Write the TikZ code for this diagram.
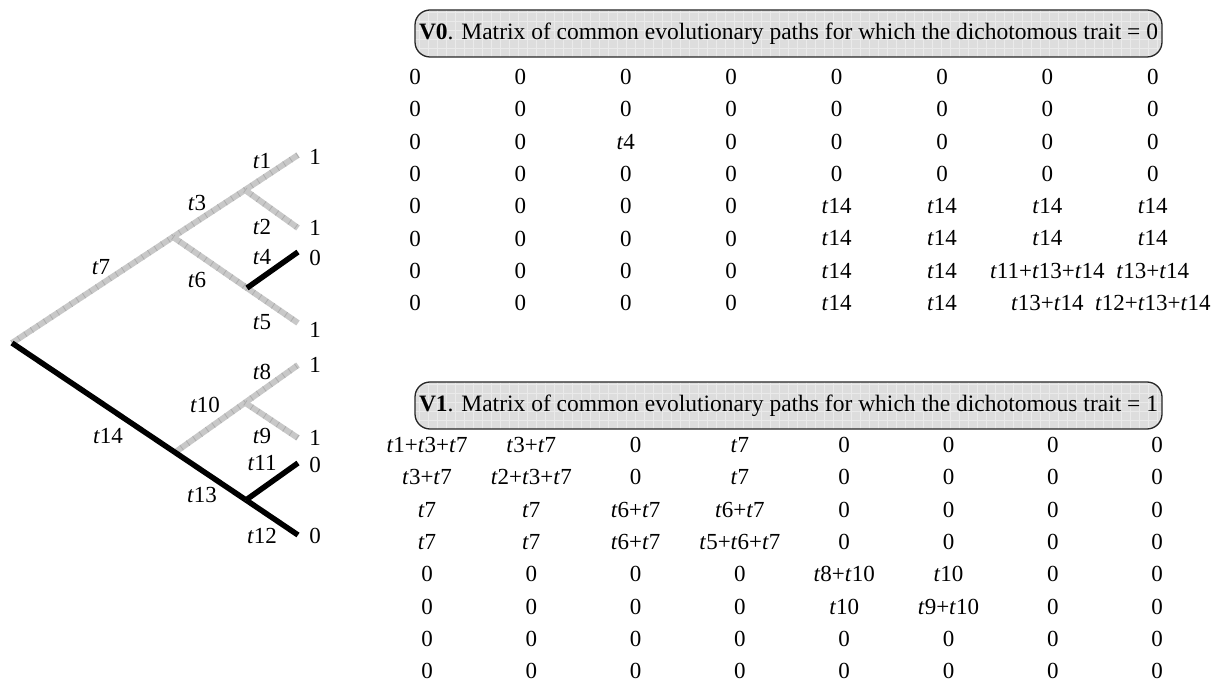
\documentclass[tikz,border=0pt]{standalone}
\usepackage{fontspec}
\setmainfont{Liberation Serif}
\newcommand{\tvar}[1]{\textit{t}#1}
\definecolor{brgray}{HTML}{C8C8C8}
\definecolor{brtick}{HTML}{ADADAD}
\definecolor{boxgray}{HTML}{DDDDDD}
\definecolor{gridcol}{HTML}{EAEAEA}
\begin{document}
\begin{tikzpicture}[x=1pt,y=-1pt,
  lab/.style={font=\fontsize{23}{27}\selectfont, inner sep=0pt},
  cell/.style={font=\fontsize{23}{27}\selectfont, inner sep=0pt},
  graybr/.style={line width=6pt, draw=brgray},
  ticks/.style={line width=6pt, draw=brtick, dash pattern=on 0.8pt off 7pt},
  blackbr/.style={line width=5.5pt, draw=black},
  titlebox/.style={draw=black!85, line width=1.3pt, fill=boxgray, rounded corners=15pt,
    minimum width=747pt, minimum height=47pt, inner sep=0pt,
    font=\fontsize{23.5}{27}\selectfont,
    path picture={\draw[gridcol, line width=0.5pt] (path picture bounding box.south west) grid[step=9pt] (path picture bounding box.north east);}}
]
\useasboundingbox (0,0) rectangle (1213,684);

% ---------- tree ----------
\coordinate (root) at (12,343);
\coordinate (A) at (173,237);
\coordinate (B) at (245,190);
\coordinate (L1) at (298,155);
\coordinate (L2) at (298,228);
\coordinate (C) at (247,288);
\coordinate (L4) at (298,252);
\coordinate (L5) at (298,323);
\coordinate (F) at (175,452.4);
\coordinate (D) at (245,402.7);
\coordinate (L8) at (298,365);
\coordinate (L9) at (298,438);
\coordinate (E) at (246,500);
\coordinate (L11) at (298,463);
\coordinate (L12) at (298,535);

\foreach \s/\e in {root/A, A/B, B/L1, B/L2, A/C, C/L5, F/D, D/L8, D/L9}{
  \draw[graybr] (\s) -- (\e);
  \draw[ticks] (\s) -- (\e);
}
\draw[blackbr] (root) -- (E);
\draw[blackbr] (E) -- (L12);
\draw[blackbr] (E) -- (L11);
\draw[blackbr] (C) -- (L4);

% branch labels
\node[lab] (n1) at (262,161) {\tvar{1}};
\node[lab] (n3) at (197,203) {\tvar{3}};
\node[lab] (n2) at (262,227) {\tvar{2}};
\node[lab] (n4) at (262,257) {\tvar{4}};
\node[lab] (n7) at (101,267) {\tvar{7}};
\node[lab] (n6) at (197,280) {\tvar{6}};
\node[lab] (n5) at (262,322) {\tvar{5}};
\node[lab] (n8) at (262,372) {\tvar{8}};
\node[lab] (n10) at (205,405) {\tvar{10}};
\node[lab] (n9) at (262,436) {\tvar{9}};
\node[lab] (n14) at (108,436) {\tvar{14}};
\node[lab] (n11) at (262,463) {\tvar{11}};
\node[lab] (n13) at (202,495) {\tvar{13}};
\node[lab] (n12) at (262,536) {\tvar{12}};

% leaf values
\node[lab] (v1) at (315,157) {1};
\node[lab] (v2) at (315,228) {1};
\node[lab] (v4) at (315,258) {0};
\node[lab] (v5) at (315,330) {1};
\node[lab] (v8) at (315,365) {1};
\node[lab] (v9) at (315,438) {1};
\node[lab] (v11) at (315,465) {0};
\node[lab] (v12) at (315,536) {0};

% ---------- V0 ----------
\node[titlebox] (h0) at (788.5,33.5) {\textbf{V0}. Matrix of common evolutionary paths for which the dichotomous trait = 0};

\foreach \v [count=\c] in {0,0,0,0,0,0,0,0}
  \node[cell] (a-1-\c) at ({415+105.4*(\c-1)},77) {\v};
\foreach \v [count=\c] in {0,0,0,0,0,0,0,0}
  \node[cell] (a-2-\c) at ({415+105.4*(\c-1)},109.3) {\v};
\foreach \v [count=\c] in {0,0,\tvar{4},0,0,0,0,0}
  \node[cell] (a-3-\c) at ({415+105.4*(\c-1)},141.6) {\v};
\foreach \v [count=\c] in {0,0,0,0,0,0,0,0}
  \node[cell] (a-4-\c) at ({415+105.4*(\c-1)},173.9) {\v};
\foreach \v [count=\c] in {0,0,0,0,\tvar{14},\tvar{14},\tvar{14},\tvar{14}}
  \node[cell] (a-5-\c) at ({415+105.4*(\c-1)},206.2) {\v};
\foreach \v [count=\c] in {0,0,0,0,\tvar{14},\tvar{14},\tvar{14},\tvar{14}}
  \node[cell] (a-6-\c) at ({415+105.4*(\c-1)},238.5) {\v};
\foreach \v [count=\c] in {0,0,0,0,\tvar{14},\tvar{14},\tvar{11}+\tvar{13}+\tvar{14},\tvar{13}+\tvar{14}}
  \node[cell] (a-7-\c) at ({415+105.4*(\c-1)},270.8) {\v};
\foreach \v [count=\c] in {0,0,0,0,\tvar{14},\tvar{14},\tvar{13}+\tvar{14},\tvar{12}+\tvar{13}+\tvar{14}}
  \node[cell] (a-8-\c) at ({415+105.4*(\c-1)},303.1) {\v};

% ---------- V1 ----------
\node[titlebox] (h1) at (788.5,405.5) {\textbf{V1}. Matrix of common evolutionary paths for which the dichotomous trait = 1};

\foreach \v [count=\c] in {\tvar{1}+\tvar{3}+\tvar{7},\tvar{3}+\tvar{7},0,\tvar{7},0,0,0,0}
  \node[cell] (b-1-\c) at ({427+104.3*(\c-1)},445) {\v};
\foreach \v [count=\c] in {\tvar{3}+\tvar{7},\tvar{2}+\tvar{3}+\tvar{7},0,\tvar{7},0,0,0,0}
  \node[cell] (b-2-\c) at ({427+104.3*(\c-1)},477.3) {\v};
\foreach \v [count=\c] in {\tvar{7},\tvar{7},\tvar{6}+\tvar{7},\tvar{6}+\tvar{7},0,0,0,0}
  \node[cell] (b-3-\c) at ({427+104.3*(\c-1)},509.6) {\v};
\foreach \v [count=\c] in {\tvar{7},\tvar{7},\tvar{6}+\tvar{7},\tvar{5}+\tvar{6}+\tvar{7},0,0,0,0}
  \node[cell] (b-4-\c) at ({427+104.3*(\c-1)},541.9) {\v};
\foreach \v [count=\c] in {0,0,0,0,\tvar{8}+\tvar{10},\tvar{10},0,0}
  \node[cell] (b-5-\c) at ({427+104.3*(\c-1)},574.2) {\v};
\foreach \v [count=\c] in {0,0,0,0,\tvar{10},\tvar{9}+\tvar{10},0,0}
  \node[cell] (b-6-\c) at ({427+104.3*(\c-1)},606.5) {\v};
\foreach \v [count=\c] in {0,0,0,0,0,0,0,0}
  \node[cell] (b-7-\c) at ({427+104.3*(\c-1)},638.8) {\v};
\foreach \v [count=\c] in {0,0,0,0,0,0,0,0}
  \node[cell] (b-8-\c) at ({427+104.3*(\c-1)},671.1) {\v};
\end{tikzpicture}
\end{document}
